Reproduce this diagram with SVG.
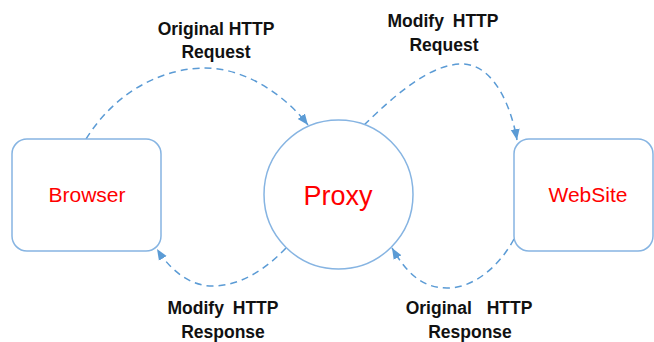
<svg xmlns="http://www.w3.org/2000/svg" width="654" height="342" viewBox="0 0 654 342">
<style>
.node{fill:#fff;stroke:#86b4e2;stroke-width:1.5}
.name{font-family:"Liberation Sans",Arial,sans-serif;fill:#ff0000;text-anchor:middle}
.lbl{font-family:"Liberation Sans",Arial,sans-serif;font-weight:bold;font-size:17.5px;fill:#111;text-anchor:middle}
.conn{fill:none;stroke:#5b9bd5;stroke-width:1.5;stroke-dasharray:7 5}
</style>
<defs>
<marker id="arr" markerUnits="userSpaceOnUse" markerWidth="12" markerHeight="12" viewBox="0 0 12 12" refX="11" refY="6" orient="auto">
<path d="M0,1.5 L11,6 L0,10.5 Z" fill="#5b9bd5"/>
</marker>
</defs>
<rect width="654" height="342" fill="#fff"/>
<g id="connectors">
<path class="conn" d="M86,139 C120,85 170,68 205,68 C245,68 285,95 308,125" marker-end="url(#arr)"/>
<path class="conn" d="M364,125 C395,95 430,64 462,64 C495,64 512,110 517,140" marker-end="url(#arr)"/>
<path class="conn" d="M286,248 C265,270 240,286 212,286 C190,286 170,270 157,249" marker-end="url(#arr)"/>
<path class="conn" d="M514,239 C500,265 475,288 447,288 C420,288 405,270 392,248" marker-end="url(#arr)"/>
</g>
<g id="browser">
<rect class="node" x="12" y="139" width="149" height="112" rx="15"/>
<text class="name" x="87" y="202" font-size="21">Browser</text>
</g>
<g id="proxy">
<circle class="node" cx="338.5" cy="194.5" r="74.5"/>
<text class="name" x="338" y="205" font-size="27">Proxy</text>
</g>
<g id="website">
<rect class="node" x="514" y="139" width="139" height="112" rx="15"/>
<text class="name" x="588" y="202" font-size="21">WebSite</text>
</g>
<g id="labels">
<text class="lbl" x="216" y="35">Original HTTP</text>
<text class="lbl" x="216" y="58">Request</text>
<text class="lbl" x="443" y="27" word-spacing="4">Modify HTTP</text>
<text class="lbl" x="444" y="51">Request</text>
<text class="lbl" x="223" y="314" word-spacing="4">Modify HTTP</text>
<text class="lbl" x="223" y="338">Response</text>
<text class="lbl" x="469" y="314" word-spacing="10">Original HTTP</text>
<text class="lbl" x="470" y="338">Response</text>
</g>
</svg>
